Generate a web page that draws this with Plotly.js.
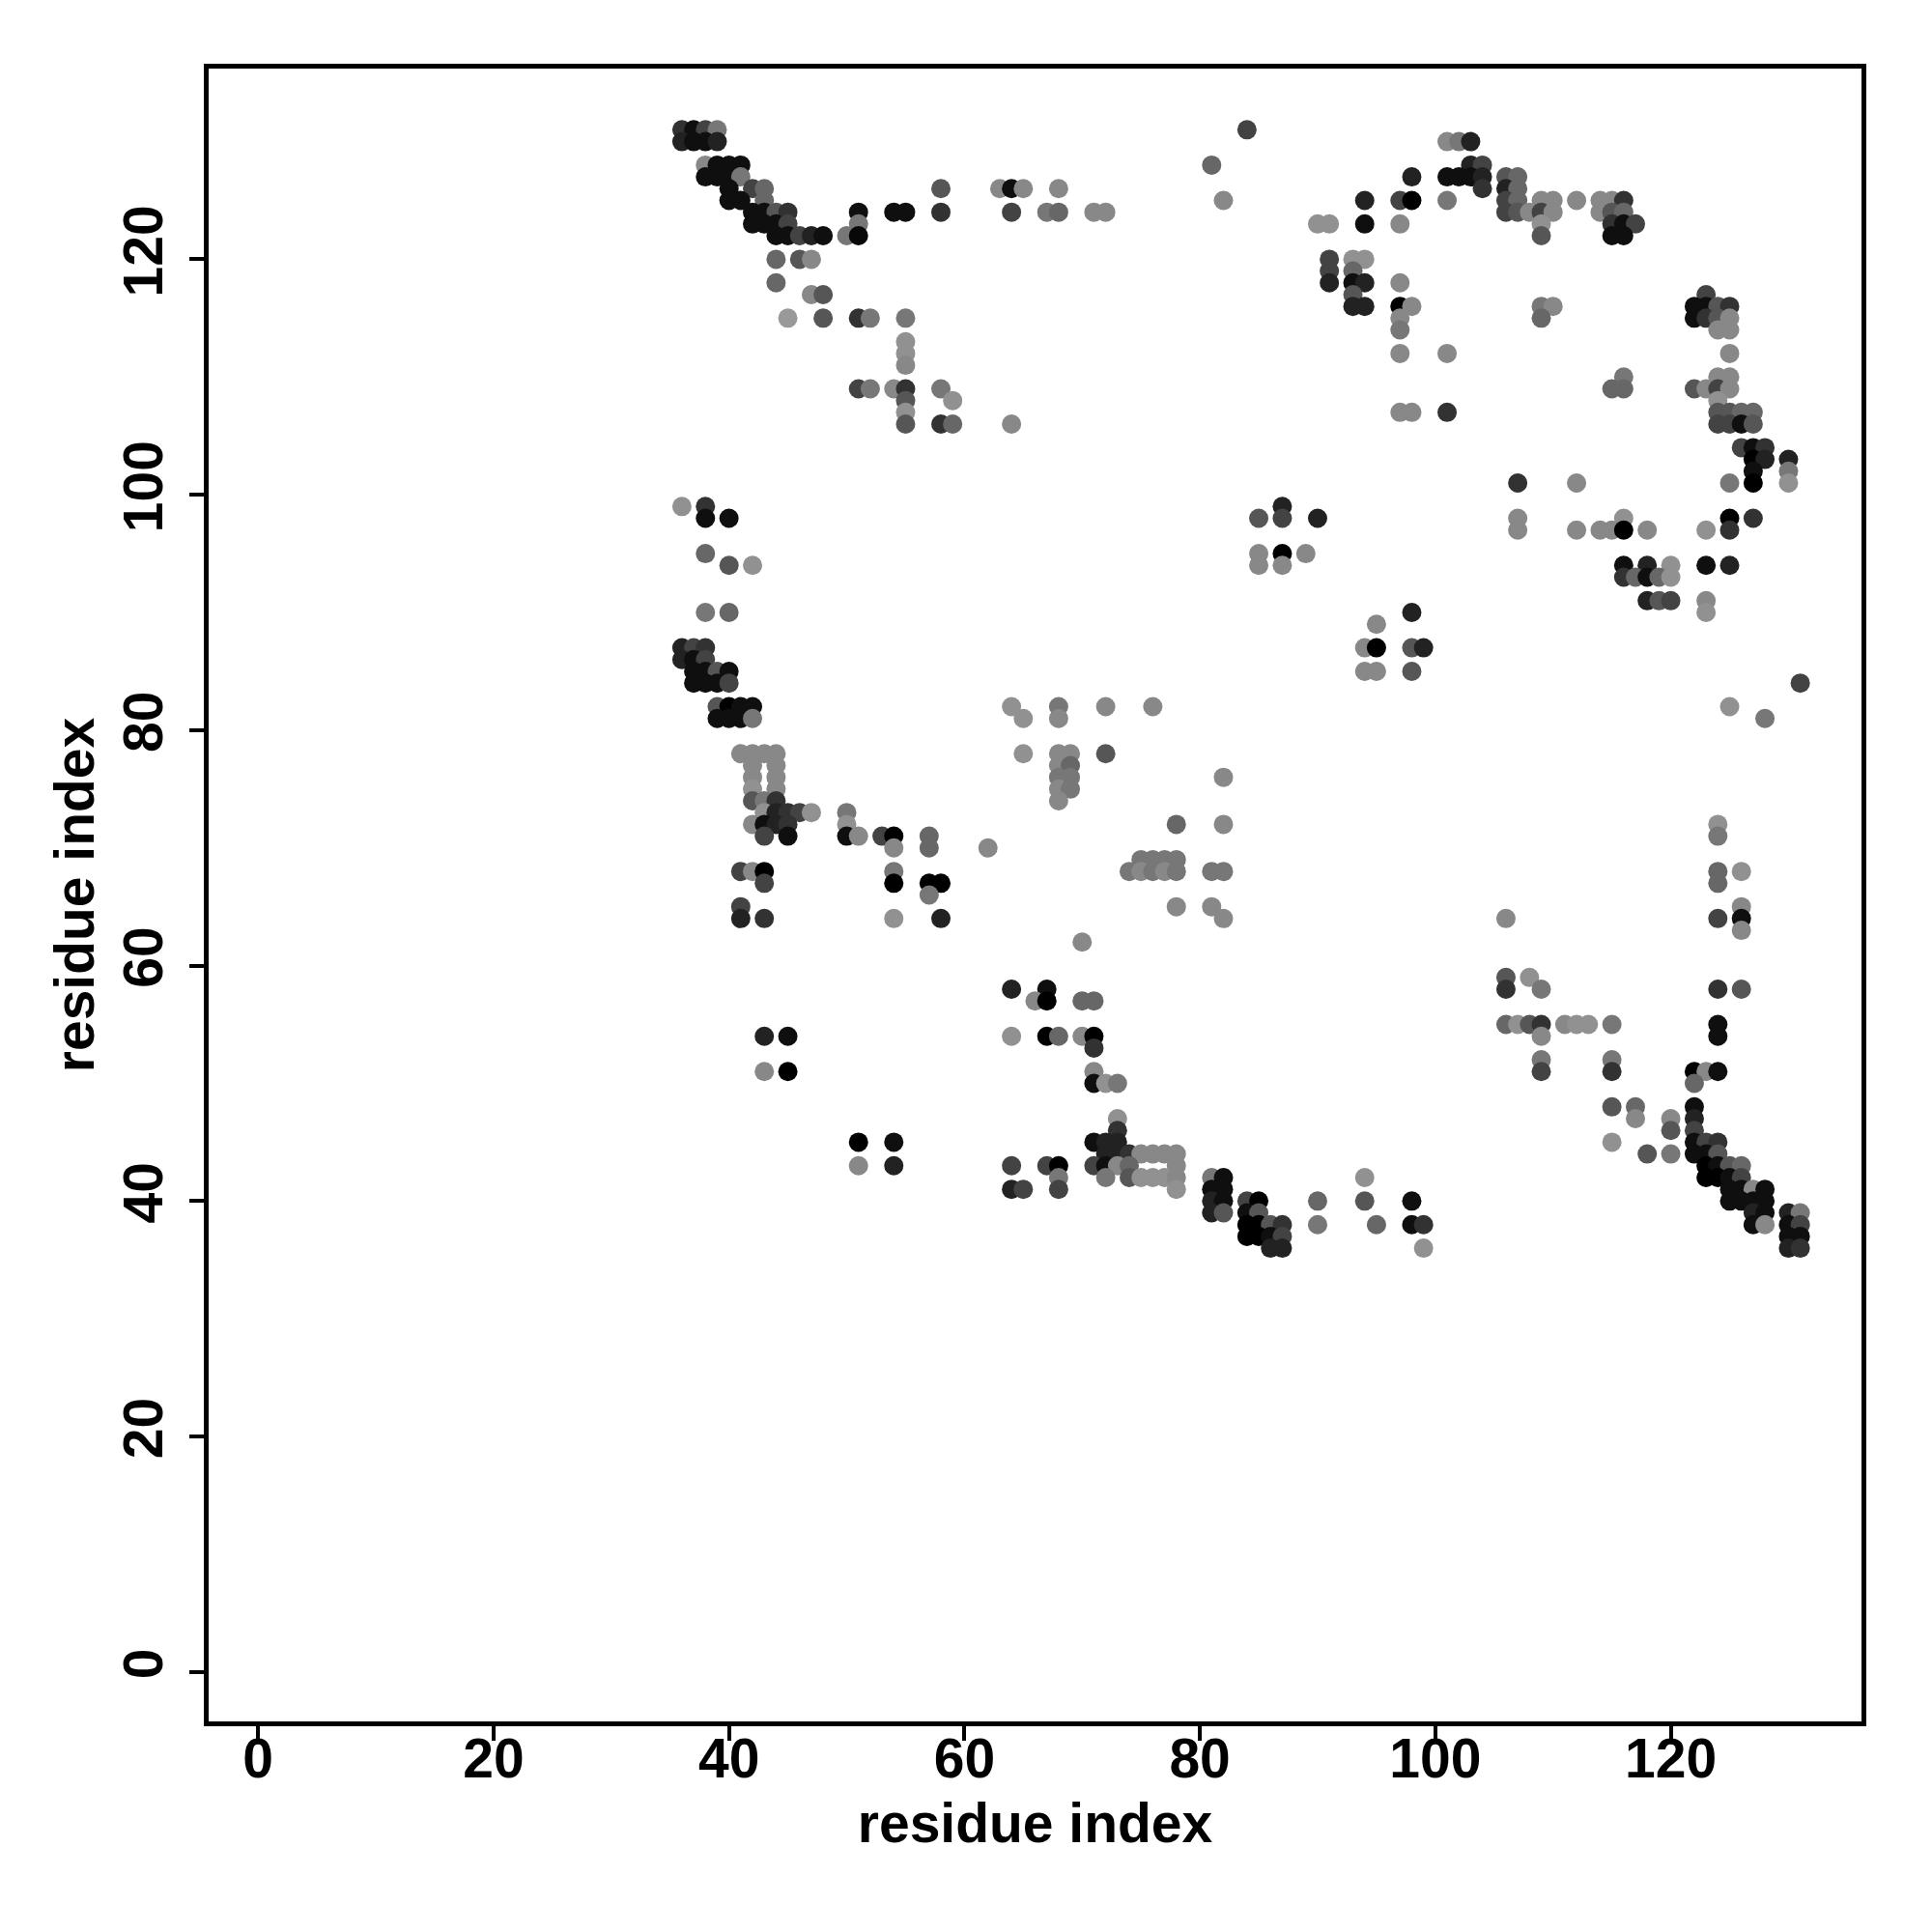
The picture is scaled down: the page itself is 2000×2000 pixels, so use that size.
<!DOCTYPE html>
<html>
<head>
<meta charset="utf-8">
<script src="https://cdn.plot.ly/plotly-3.0.1.min.js"></script>
<style>html,body{margin:0;padding:0;background:#fff;}#chart{width:2000px;height:2000px;}</style>
</head>
<body>
<div id="chart"></div>
<script>
// Each row: residue index j (y), partner residues i (x), and contact score (0 = weak/light grey, 1 = strong/black)
const rowResidue = [
  131,130,128,127,126,125,124,123,122,120,118,117,115,113,112,111,109,108,107,106,
  126,124,
  131,128,125,123,127,120,119,118,117,116,115,114,112,107,
  130,128,127,126,125,124,123,122,117,116,115,114,112,110,109,
  108,107,106,104,103,102,101,98,97,94,93,91,90,84,
  99,98,95,94,90,89,87,85,
  99,98,95,94,90,87,86,85,84,82,81,78,77,76,75,74,73,72,71,70,68,67,66,65,64,
  82,81,78,77,76,75,74,72,69,68,65,64,62,
  58,57,54,53,51,50,47,46,45,44,43,42,41,40,39,38,37,36,
  59,58,55,54,52,51,50,48,47,46,45,44,43,42,41,40,39,38,37,36,82,81,72,71,68,67,65,64,63
];
const rowPartners = [
  [36,37,38,39],[36,37,38,39],[38,39,40,41],[38,39,40,41],[40,42,43,58],[40,41,43],
  [42,43,44,45,51,54,55,58],[42,43,44,45,51],[44,45,46,47,48,50,51],[44,46,47],[44],[47,48],
  [45,48,51,52,55],[55],[55],[55],[51,52,54,55,58],[55,59],[55],[55,58,59,64],
  [63,64,65,68],[64,67,68,71,72],
  [84],[81],[82,94,97,98],[90,91,94,97],[98],[91,93,94],[91,93],[91,93,94,97],[93],
  [93,94,97,98],[97],[97],[97,101],[97,98,101],
  [101,102,103],[103,104],[101,102,103,104,106,107],[104,106,107],
  [101,106,107,109,110,112,114,115,116],[106,107,108,109,110,114,115,116],
  [109,115,116,117],[109,115,116],[123],[109,110,122,123,124,125],[109,122,123,124,125],
  [124,125],[125],[116,124,125],[115,116,122,123,124,125],
  [124],[124,125,126,127],[124,125,126,127],[126,127,128],[127,128,130],[127,130],
  [107,112,125,127,130],[107,116,125,127],[107,112,114,115,116,118,123,125],
  [116,118,120,123,125],[116,117,118,119,120],[118,119,120,123],[123],[131],
  [87],[85,87,90],[85,87,89],[85,87],[98],[95],[94,95,98,99],[94,95,98],
  [36,38],[38,40],[38],[40,42],[38,40],[36,37,38],[36,37,38],[37,38,39,40],[37,38,39,40],
  [39,40,41,42],[39,40,41,42],[41,42,43,44],[42,44],[42,44],[42,44],[42,43,44],
  [43,44,45,46,47,50],[42,43,44,45,50],[43,45,50,51,53,54,57],[54,57,62],[41,42,43,54],
  [43,54,57,58],[57],[41],[41,43,54,58],
  [64,68,72,76],[65,68],[65,68,69,72],[68,69],[68,69,82],[68,69],[68],[78,82],
  [75,76,77,78],[74,75,76,77,78,81,82],[78,81],[82],[70],
  [64,67],[66,67,70,71],[43,45,64,67,68,70,71],[71],[43,45,71],[71,72,73],[73],[73],
  [51,54,71,72,73],[72,73,74,75,76,77,78],[51,54,64,67,68,71,72,73,74,78],
  [68,72,74,75,76,77,78,81,82,94],[64,65,68,78,81,82],[81,82,84,85,90,94,98],
  [81,82,84,85],[84,85,86,87,90,95,98,99],[84,85,86,87],[86,87,99],
  [106,108],[106,109,124,126],[106,107,108,109,111,112,113,115,124],[109,124],[109,115],
  [109,115,122,123,124],[122],[115,117,122],[117,120,122],[120,122],[115,122,123,124],
  [118,120,122,123,124],[123,124,125,126],[123,124,125,126],[125,126,127,128],
  [125,126,127,128],[127,128,130,131],[127,128,130,131],[130,131],[130,131],
  [125],[128],[124],[124],[124,126],[124],[126],[106,124,126],[126]
];
const rowScores = [
  [.67,.9,.56,.22],[.78,.9,.9,.78],[.11,.9,.9,.9],[.9,.9,.9,.22],[.9,.56,.33,.44],[.9,.9,.33],
  [.9,.9,.44,.67,.9,.9,.9,.67],[.9,.9,.9,.56,.22],[.9,.9,.56,.78,.9,.22,.95],[.33,.44,.11],[.33],[.11,.44],
  [0,.44,.67,.22,.22],[.05],[.05],[.11],[.56,.22,.11,.67,.22],[.44,.05],[.05],[.44,.67,.33,.11],
  [.11,.9,.11,.11],[.56,.22,.33,.11,.11],
  [.56],[.33],[.11,.78,.56,1],[.05,.05,.9,.11],[.78],[.56,.05,.05],[.56,.33],[.78,.9,.78,.11],[.44],
  [.78,.78,1,.11],[.11],[.22],[.11,.11],[.11,.11,.67],
  [.11,.22,.78],[.78,.56],[.9,.9,.9,.78,.44,.33],[.67,.78,.33],
  [.22,.56,.33,.11,.11,.11,.11,.11,.67],[.56,.44,.11,.56,.11,.11,.44,.33],
  [.05,.67,.9,.56],[.44,.9,.9],[.56],[.22,.11,.9,.9,.44,.67],[.33,.9,.67,.44,.11],
  [.11,.11],[.11],[.22,.11,.11],[.33,.33,.44,.11,.56,.11],
  [.05],[.44,.44,.33,.33],[.56,.56,.9,.44],[.56,.9,.67],[1,.78,.78],[.9,.22],
  [.67,.11,.22,1,.05],[.11,.05,1,.67],[.11,.11,.11,.11,1,.11,.05,.67],
  [.9,.78,.05,.9,.78],[.67,.33,.9,.33,.05],[.78,.44,.56,.11],[.05],[.56],
  [.78],[.44,.56,.78],[.11,1,.11],[.11,.11],[.78],[.11],[.11,1,.44,.78],[.11,.11,.44],
  [.05,.67],[.9,.9],[.33],[.44,.05],[.22,.33],[.78,.56,.67],[.78,.9,.56],[.9,.9,.44,.9],[.9,.9,.9,.56],
  [.44,1,.9,.9],[.9,.9,.9,.22],[.11,.11,.11,.11],[.11,.11],[.11,.11],[.05,.11],[.44,.22,.67],
  [.05,.78,.67,.56,.05,.22],[.11,.9,.78,.67,.05],[.56,.9,.9,.11,.56,1,.33],[.11,.33,.11],[.56,.11,1,.22],
  [.56,1,1,1],[.22],[.56],[.78,.67,.05,.78],
  [.05,.22,.11,.11],[.05,.11],[.05,.11,.11,.44],[.11,.33],[.22,.22,.11],[.11,.22],[.11],[.33,.11],
  [.22,.22,.22,.22],[.22,.11,.22,.11,.22,.22,.22],[.11,.11],[.11],[.11],
  [.78,.9],[.11,1,.33,.33],[.78,.9,.05,1,.33,.11,1],[.67],[.11,1,.11],[.9,.05,.22],[.05],[.67],
  [1,.9,.9,.78,.78],[.78,.78,.67,.11,.11,.11,.11],[.11,.78,.56,.56,1,.56,.9,.11,.33,.11],
  [.22,.22,.44,.05,.05,.05,.11,.22,.9,.05],[.78,.56,.56,.05,.9,.9],[.78,.9,.56,1,.33,.44,.9],
  [.78,.44,.9,.44],[1,1,.44,.67,.22,.33,.9,.67],[1,1,.9,.56],[.78,.78,.05],
  [.44,.05],[.67,.22,.67,.44],[.33,.05,.44,.67,.11,.05,.05,.22,.9],[.11,.9],[.22,.22],
  [.56,.67,1,.11,.9],[.33],[.44,.33,.9],[.11,.11,.78],[.44,.56],[.05,.9,.56,.67],
  [.44,.22,.9,.9,.44],[1,.9,.44,.33],[1,1,.9,.56],[.9,.9,.11,.9],
  [.9,.9,.9,.9],[.78,.9,.78,.22],[.9,.11,.9,.56],[.9,.9],[.78,.67],
  [.05],[.22],[.05],[.22],[.33,.05],[.33],[.11],[.11,.56,.9],[.11]
];
const tickValues = [0, 20, 40, 60, 80, 100, 120];
const axisRange = [-4.2, 136.2];

const xs = [], ys = [], cs = [];
rowResidue.forEach((j, r) => {
  rowPartners[r].forEach((i, k) => {
    xs.push(i); ys.push(j); cs.push(rowScores[r][k]);
  });
});

const fontFamily = '"Liberation Sans", Arial, Helvetica, sans-serif';
const tickFont = {family: fontFamily, size: 57, color: '#000', weight: 'bold'};
const titleFont = {family: fontFamily, size: 57, color: '#000', weight: 'bold'};

const trace = {
  type: 'scatter', mode: 'markers', x: xs, y: ys,
  marker: {
    size: 20, color: cs, cmin: 0, cmax: 1,
    colorscale: [[0, 'rgb(153,153,153)'], [1, 'rgb(0,0,0)']],
    showscale: false, line: {width: 0}, opacity: 1
  },
  hoverinfo: 'x+y'
};

const axisCommon = {
  range: axisRange, tickmode: 'array', tickvals: tickValues,
  ticks: 'outside', ticklen: 15, tickwidth: 4, tickcolor: '#000',
  showline: true, mirror: true, linewidth: 5, linecolor: '#000',
  showgrid: false, zeroline: false, tickfont: tickFont
};

const layout = {
  width: 2000, height: 2000,
  margin: {l: 216, r: 73, t: 71, b: 218, pad: 0},
  paper_bgcolor: '#fff', plot_bgcolor: '#fff',
  showlegend: false,
  xaxis: Object.assign({}, axisCommon, {
    ticklabelstandoff: -30,
    title: {text: 'residue index', font: titleFont, standoff: 17}
  }),
  yaxis: Object.assign({}, axisCommon, {
    tickangle: -90,
    ticklabelstandoff: 5,
    title: {text: 'residue index', font: titleFont, standoff: 2}
  })
};

Plotly.newPlot('chart', [trace], layout, {displayModeBar: false, staticPlot: true});
</script>
</body>
</html>
